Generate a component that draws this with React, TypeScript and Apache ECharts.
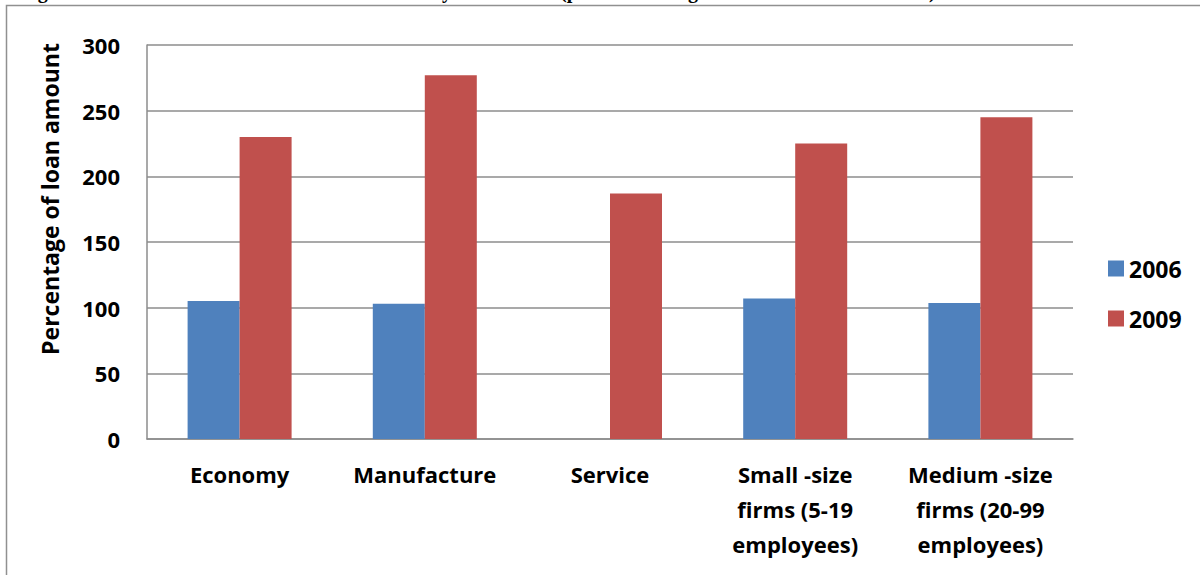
import React, { useEffect, useRef } from "react";
import * as echarts from "echarts";

const categories = [
  "Economy",
  "Manufacture",
  "Service",
  "Small -size\nfirms (5-19\nemployees)",
  "Medium -size\nfirms (20-99\nemployees)",
];
const series2006: (number | null)[] = [105, 103, null, 107, 103.5];
const series2009: number[] = [230, 277, 187, 225, 245];
const seriesNames = ["2006", "2009"];
const yTitle = "Percentage of loan amount";

const FONT = "'Open Sans', 'DejaVu Sans', sans-serif";
const GRID = "#8c8c8c";

export default function App() {
  const ref = useRef<HTMLDivElement>(null);
  useEffect(() => {
    if (!ref.current) return;
    const chart = echarts.init(ref.current, undefined, { renderer: "svg" });
    chart.setOption({
      animation: false,
      backgroundColor: "#ffffff",
      grid: { left: 147, top: 45, right: 127, bottom: 136, containLabel: false },
      legend: {
        orient: "vertical",
        left: 1103,
        top: 252,
        itemWidth: 16,
        itemHeight: 16,
        itemGap: 27,
        icon: "rect",
        data: seriesNames,
        textStyle: {
          fontFamily: FONT,
          fontWeight: "bold",
          fontSize: 23,
          lineHeight: 23,
          color: "#000",
        },
      },
      xAxis: {
        type: "category",
        data: categories,
        axisLine: { show: true, lineStyle: { color: GRID, width: 1.5 } },
        axisTick: { show: false },
        axisLabel: {
          interval: 0,
          margin: 17,
          fontFamily: FONT,
          fontWeight: "bold",
          fontSize: 22,
          lineHeight: 35,
          color: "#000",
          align: "center",
        },
      },
      yAxis: {
        type: "value",
        min: 0,
        max: 300,
        interval: 50,
        axisLine: { show: true, lineStyle: { color: GRID, width: 1.5 } },
        axisTick: { show: false },
        splitLine: { show: true, lineStyle: { color: GRID, width: 1.5 } },
        axisLabel: {
          margin: 27,
          fontFamily: FONT,
          fontWeight: "bold",
          fontSize: 22,
          color: "#000",
        },
      },
      series: [
        {
          name: seriesNames[0],
          type: "bar",
          data: series2006,
          barWidth: 52,
          barGap: "0%",
          itemStyle: { color: "#4F81BD" },
        },
        {
          name: seriesNames[1],
          type: "bar",
          data: series2009,
          barWidth: 52,
          barGap: "0%",
          itemStyle: { color: "#C0504D" },
        },
      ],
      graphic: [
        {
          type: "rect",
          shape: { x: 6.5, y: 5.5, width: 1400, height: 800 },
          style: { fill: "none", stroke: "#909090", lineWidth: 1.5 },
          silent: true,
        },
        {
          type: "text",
          x: 50,
          y: 199,
          rotation: Math.PI / 2,
          style: {
            text: yTitle,
            fontFamily: FONT,
            fontWeight: "bold",
            fontSize: 23,
            fill: "#000",
            align: "center",
            verticalAlign: "middle",
          },
        },
        ...[
          { t: "Figure", x: 20 },
          { t: "by", x: 431 },
          { t: "(p", x: 560 },
          { t: "g", x: 688 },
          { t: ")", x: 929 },
        ].map((f) => ({
          type: "text",
          x: f.x,
          y: 1,
          style: {
            text: f.t,
            fontFamily: "'Liberation Serif', serif",
            fontWeight: "bold",
            fontSize: 20,
            fill: "#000",
            align: "left",
            verticalAlign: "bottom",
          },
        })),
      ],
    });
    return () => chart.dispose();
  }, []);
  return (
    <div
      ref={ref}
      style={{ position: "fixed", left: 0, top: 0, width: 1200, height: 575 }}
    />
  );
}
